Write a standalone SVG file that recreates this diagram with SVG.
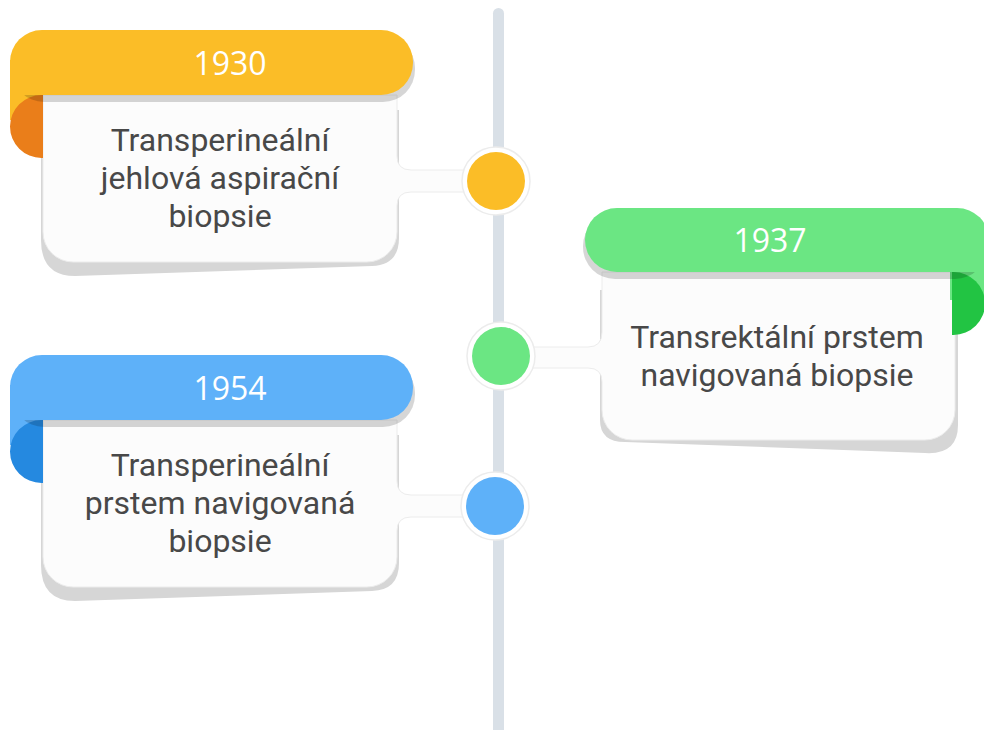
<svg xmlns="http://www.w3.org/2000/svg" width="984" height="730" viewBox="0 0 984 730">
<style>
.year{font-family:"Open Sans","Liberation Sans",sans-serif;font-size:32px;fill:#ffffff;text-anchor:middle}
.txt{font-family:Roboto,"Liberation Sans",sans-serif;font-size:32px;font-weight:400;fill:#484848;text-anchor:middle}
.body{fill:#fcfcfc;stroke:#ececec;stroke-width:1}
.bshadow{fill:#d6d6d6}
.hshadow{fill:#000000;fill-opacity:0.16}
.ring{fill:#ffffff;stroke:#ececec;stroke-width:1.5}
</style>
<rect width="984" height="730" fill="#ffffff"/>
<g id="connectors">
<rect x="493" y="8" width="11" height="730" rx="5.5" fill="#d9e0e7"/>
</g>
<g id="node-1930">
<path class="bshadow" d="M41,110 V240 Q41,276 75,276 L372,266 Q399,265 399,238 V110 Z"/>
<rect x="10" y="60" width="34" height="60" fill="#fbbd27"/>
<path class="body" d="M43,95 H397 V156 Q397,170 411,170 H470 V192 H411 Q397,192 397,206 V232 A30,30 0 0 1 367,262 H73 A30,30 0 0 1 43,232 Z"/>
<path d="M43,95 V158 H41.5 A31.5,31.5 0 0 1 41.5,95 Z" fill="#ea7e1a"/>
<rect class="hshadow" x="12" y="36" width="403" height="66" rx="32"/>
<rect x="10" y="30" width="403" height="65" rx="32" fill="#fbbd27"/>
<rect x="10" y="60" width="33" height="35" fill="#fbbd27"/>
<text class="year" x="230" y="75">1930</text>
<text class="txt" x="220" y="151">Transperineální</text>
<text class="txt" x="220" y="189">jehlová aspirační</text>
<text class="txt" x="220" y="227">biopsie</text>
<circle class="ring" cx="496" cy="181" r="34"/>
<circle cx="496" cy="181" r="29" fill="#fbbd27"/>
</g>
<g id="node-1937">
<path class="bshadow" d="M600,290 V420 Q600,442 625,442 L925,453 Q958,455 958,425 V290 Z"/>
<path class="body" d="M955,272 H602 V332 Q602,347 588,347 H530 V368 H588 Q602,368 602,382 V410 A30,30 0 0 0 632,440 H925 A30,30 0 0 0 955,410 Z"/>
<rect x="950" y="240" width="36" height="60" fill="#6be683"/>
<path d="M952,272 V335 H953.5 A31.5,31.5 0 0 0 953.5,272 Z" fill="#22c443"/>
<rect class="hshadow" x="583" y="214" width="404" height="65" rx="32"/>
<rect x="585" y="208" width="404" height="64" rx="32" fill="#6be683"/>
<rect x="952" y="240" width="36" height="32" fill="#6be683"/>
<text class="year" x="770" y="252">1937</text>
<text class="txt" x="777" y="348">Transrektální prstem</text>
<text class="txt" x="777" y="386">navigovaná biopsie</text>
<circle class="ring" cx="501" cy="356" r="34"/>
<circle cx="501" cy="356" r="29" fill="#6be683"/>
</g>
<g id="node-1954" transform="translate(0,325)">
<path class="bshadow" d="M41,110 V240 Q41,276 75,276 L372,266 Q399,265 399,238 V110 Z"/>
<rect x="10" y="60" width="34" height="60" fill="#5eb1f9"/>
<path class="body" d="M43,95 H397 V156 Q397,170 411,170 H470 V192 H411 Q397,192 397,206 V232 A30,30 0 0 1 367,262 H73 A30,30 0 0 1 43,232 Z"/>
<path d="M43,95 V158 H41.5 A31.5,31.5 0 0 1 41.5,95 Z" fill="#2589e0"/>
<rect class="hshadow" x="12" y="36" width="403" height="66" rx="32"/>
<rect x="10" y="30" width="403" height="65" rx="32" fill="#5eb1f9"/>
<rect x="10" y="60" width="33" height="35" fill="#5eb1f9"/>
<text class="year" x="230" y="75">1954</text>
<text class="txt" x="220" y="151">Transperineální</text>
<text class="txt" x="220" y="189">prstem navigovaná</text>
<text class="txt" x="220" y="227">biopsie</text>
<circle class="ring" cx="495" cy="181" r="34"/>
<circle cx="495" cy="181" r="29" fill="#5eb1f9"/>
</g>
</svg>
